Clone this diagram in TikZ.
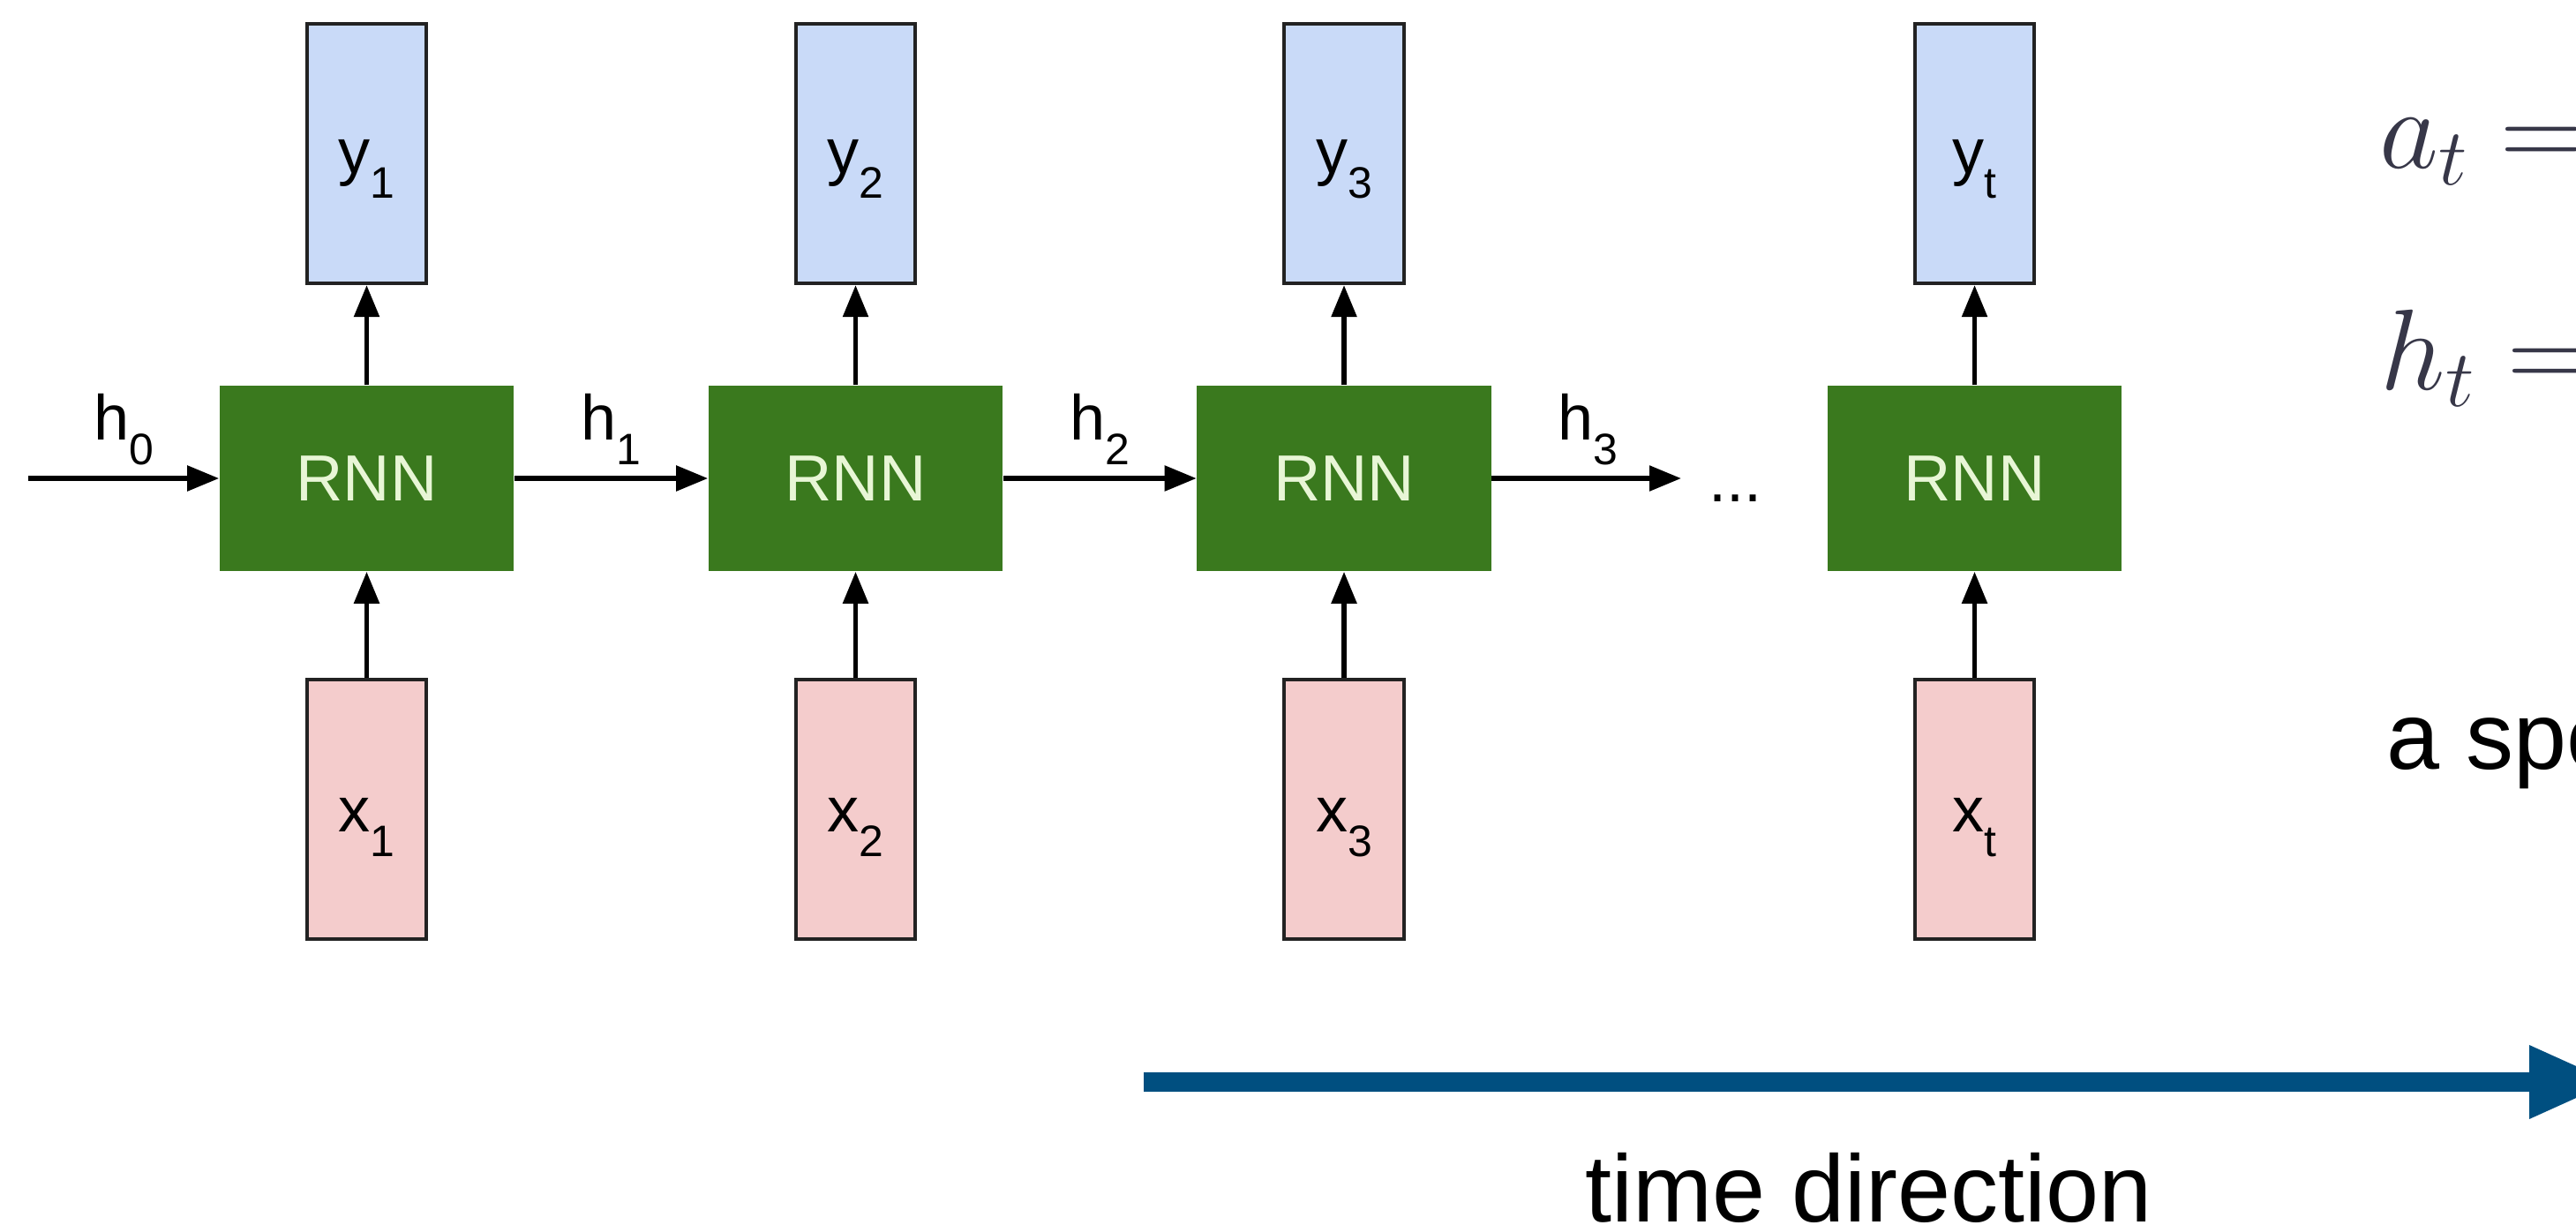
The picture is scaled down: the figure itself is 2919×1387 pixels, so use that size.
\RequirePackage{fix-cm}
\documentclass[tikz,border=0pt]{standalone}
\usepackage{fontspec}
\newfontfamily\arialf{Liberation Sans}
\usetikzlibrary{arrows.meta,calc}

\definecolor{rnngreen}{RGB}{58,121,30}
\definecolor{rnntext}{RGB}{232,246,214}
\definecolor{outblue}{RGB}{201,218,248}
\definecolor{inred}{RGB}{244,204,204}
\definecolor{boxline}{RGB}{34,34,34}
\definecolor{timeblue}{RGB}{0,79,128}
\definecolor{mathgray}{RGB}{55,55,72}

% lowered index in the sans labels
\newcommand\lsub[1]{\raisebox{-0.28cm}{\fontsize{14.2pt}{16pt}\selectfont #1}}

\begin{document}
\begin{tikzpicture}[x=0.01cm,y=-0.01cm,
  cell/.style={fill=rnngreen, minimum width=3.33cm, minimum height=2.1cm,
    inner sep=0pt, text=rnntext, font=\arialf\fontsize{21pt}{25pt}\selectfont},
  outbox/.style={draw=boxline, line width=0.04cm, fill=outblue,
    minimum width=1.35cm, minimum height=2.94cm, inner sep=0pt},
  inbox/.style={outbox, fill=inred},
  lab/.style={anchor=base, inner sep=0pt, font=\arialf\fontsize{20.5pt}{24pt}\selectfont},
  arr/.style={-{Triangle[length=0.36cm,width=0.28cm]}, line width=0.055cm},
  bigtext/.style={anchor=base west, inner sep=0pt, font=\arialf\fontsize{30.7pt}{36pt}\selectfont},
  eq/.style={anchor=base west, inner sep=0pt, text=mathgray, font=\fontsize{37pt}{44pt}\selectfont}
]
\useasboundingbox (0,0) rectangle (2919,1387);
\clip (0,0) rectangle (2919,1387);

% unrolled cells with their inputs and outputs
\foreach \i/\x in {1/415.5,2/969.5,3/1523,t/2237.5} {
  \node[cell] (r\i) at (\x,542) {RNN};
  \node[outbox] (y\i) at (\x,174) {};
  \node[inbox] (x\i) at (\x,917) {};
  \node[lab] (ly\i) at (\x,196) {y\lsub{\i}};
  \node[lab] (lx\i) at (\x,942) {x\lsub{\i}};
  \draw[arr] (r\i.north) -- (y\i.south);
  \draw[arr] (x\i.north) -- (r\i.south);
}

% hidden state chain
\coordinate (hin) at (32,542);
\coordinate (hout) at (1905,542);
\draw[arr] (hin) -- (r1.west);
\draw[arr] (r1.east) -- (r2.west);
\draw[arr] (r2.east) -- (r3.west);
\draw[arr] (r3.east) -- (hout);
\node[lab] (h0) at (140,498) {h\lsub{0}};
\node[lab] (h1) at (692,498) {h\lsub{1}};
\node[lab] (h2) at (1246.5,498) {h\lsub{2}};
\node[lab] (h3) at (1799,498) {h\lsub{3}};
\node[lab, anchor=base west] (dots) at (1936,568) {...};

% update equations
\node[eq] (eqa) at (2696,190) {$a_t =$};
\node[eq] (eqh) at (2697,441) {$h_t =$};
\node[bigtext] (spec) at (2704,871) {a spe};

% time axis
\coordinate (tstart) at (1296,1226);
\coordinate (tbase) at (2866,1226);
\draw[timeblue, line width=0.22cm] (tstart) -- (tbase);
\fill[timeblue] (tbase) ++(0,-42) -- ++(93,42) -- ++(-93,42) -- cycle;
\node[bigtext] (tdir) at (1796,1384) {time direction};
\end{tikzpicture}
\end{document}
